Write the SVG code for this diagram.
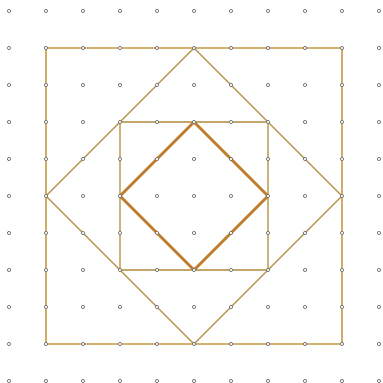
<svg xmlns="http://www.w3.org/2000/svg" width="383" height="383" viewBox="0 0 383 383">
<defs>
<style>
.ln{fill:none;stroke:#c49a3e;stroke-width:1.6;stroke-linejoin:round}
.thin{fill:none;stroke:#b08a3a;stroke-width:1.3;stroke-linejoin:round}
.thick{fill:none;stroke:#c07e2c;stroke-width:3;stroke-linejoin:round}
.d{fill:#fff;stroke:#6a6a6a;stroke-width:0.9}
</style>
<pattern id="grid" x="9" y="11" width="37" height="37" patternUnits="userSpaceOnUse">
<circle class="d" cx="0" cy="0" r="1.6"/><circle class="d" cx="37" cy="0" r="1.6"/><circle class="d" cx="0" cy="37" r="1.6"/><circle class="d" cx="37" cy="37" r="1.6"/>
</pattern>
</defs>
<rect width="383" height="383" fill="#fff"/>
<g id="shapes">
<rect id="outer-square" class="ln" x="46" y="48" width="296" height="296"/>
<polygon id="outer-diamond" class="thin" points="194,48 342,196 194,344 46,196"/>
<rect id="inner-square" class="thin" x="120" y="122" width="148" height="148"/>
<polygon id="inner-diamond" class="thick" points="194,122 268,196 194,270 120,196"/>
</g>
<g id="dots">
<rect x="0" y="0" width="383" height="383" fill="url(#grid)"/>
</g>
</svg>
